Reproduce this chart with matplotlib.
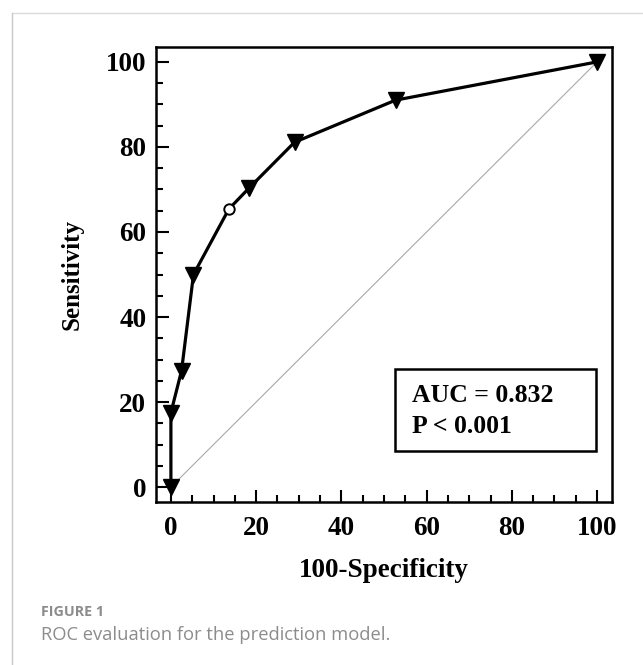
import matplotlib
matplotlib.use("Agg")
import matplotlib.pyplot as plt
from matplotlib.lines import Line2D
from matplotlib.patches import Rectangle
from matplotlib.ticker import MultipleLocator

# Data
fpr = [0, 0, 2.5, 5.3, 13.6, 18.4, 29.0, 52.7, 100]
tpr = [0, 17.5, 27.4, 50.0, 65.4, 70.4, 81.1, 91.0, 100]
open_idx = 4  # open circle (optimal cut-off)
x_ticks = [0, 20, 40, 60, 80, 100]
y_ticks = [0, 20, 40, 60, 80, 100]
auc_text = "AUC = 0.832"
p_text = "P < 0.001"
x_label = "100-Specificity"
y_label = "Sensitivity"
caption_title = "FIGURE 1"
caption_text = "ROC evaluation for the prediction model."

serif = "Liberation Serif"

fig = plt.figure(figsize=(6.43, 6.65), dpi=100)
ax = fig.add_axes([0.2426, 0.2451, 0.7092, 0.6842])

# diagonal reference line
ax.plot([0, 100], [0, 100], color="#a8a8a8", lw=0.8, zorder=1)

# ROC curve
ax.plot(fpr, tpr, color="black", lw=2.3, zorder=2)
tri_x = [x for i, x in enumerate(fpr) if i != open_idx]
tri_y = [y for i, y in enumerate(tpr) if i != open_idx]
ax.plot(tri_x, tri_y, linestyle="none", marker="v", markersize=11,
        color="black", zorder=3)
ax.plot([fpr[open_idx]], [tpr[open_idx]], linestyle="none", marker="o",
        markersize=7.5, markerfacecolor="white", markeredgecolor="black",
        markeredgewidth=1.4, zorder=3)

ax.set_xlim(-3.5, 103.5)
ax.set_ylim(-3.5, 103.5)
ax.set_xticks(x_ticks)
ax.set_yticks(y_ticks)
ax.xaxis.set_minor_locator(MultipleLocator(5))
ax.yaxis.set_minor_locator(MultipleLocator(5))
ax.tick_params(which="both", direction="in", top=False, right=False, width=1.5)
ax.tick_params(which="major", length=9)
ax.tick_params(which="minor", length=5)
for lbl in ax.get_xticklabels() + ax.get_yticklabels():
    lbl.set_fontfamily(serif)
    lbl.set_fontweight("bold")
    lbl.set_fontsize(19.5)
ax.tick_params(axis="x", pad=10)
ax.tick_params(axis="y", pad=7)
for s in ax.spines.values():
    s.set_linewidth(1.8)

ax.set_xlabel(x_label, fontfamily=serif, fontweight="bold", fontsize=19.5, labelpad=12)
ax.set_ylabel(y_label, fontfamily=serif, fontweight="bold", fontsize=18, labelpad=16)

# AUC box
box = Rectangle((52.6, 8.5), 47.2, 19.3, transform=ax.transData,
                facecolor="white", edgecolor="black", lw=1.8, zorder=4)
ax.add_patch(box)
ax.text(56.6, 20.0, auc_text, fontfamily=serif, fontweight="bold",
        fontsize=18.5, va="baseline", ha="left", zorder=5)
ax.text(56.6, 12.7, p_text, fontfamily=serif, fontweight="bold",
        fontsize=18.5, va="baseline", ha="left", zorder=5)

# page frame lines (light gray)
fig.add_artist(Line2D([12/643, 1], [1 - 12.5/665, 1 - 12.5/665], color="#dadada", lw=1.0))
fig.add_artist(Line2D([12/643, 12/643], [0, 1 - 12.5/665], color="#c8c8c8", lw=1.0))

# caption
fig.text(41/643, 1 - 612/665, caption_title, fontfamily="Open Sans",
         fontweight="bold", fontsize=10.3, color="#8c8c8c", va="center", ha="left")
fig.text(41/643, 1 - 635/665, caption_text, fontfamily="Open Sans",
         fontsize=13.2, color="#8c8c8c", va="center", ha="left")

fig.savefig("out.png", dpi=100)
